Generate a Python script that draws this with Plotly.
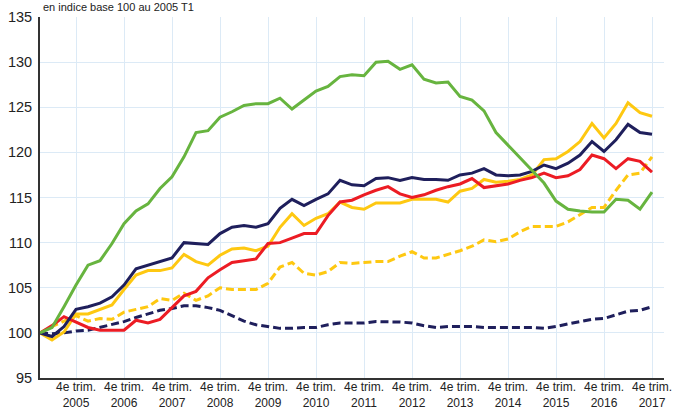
import plotly.graph_objects as go

# Quarter index 0..51 (first point = base 100)
quarters = list(range(52))
tick_positions = [3, 7, 11, 15, 19, 23, 27, 31, 35, 39, 43, 47, 51]
tick_labels = ["4e trim.<br>%d" % y for y in range(2005, 2018)]

green = [100.0, 100.6, 102.9, 105.3, 107.5, 108.0, 109.9, 112.1, 113.5, 114.3,
         116.0, 117.3, 119.5, 122.2, 122.4, 123.9, 124.5, 125.2, 125.4, 125.4,
         126.0, 124.8, 125.8, 126.8, 127.3, 128.4, 128.6, 128.5, 130.0, 130.1,
         129.2, 129.7, 128.1, 127.7, 127.8, 126.2, 125.8, 124.6, 122.2, 120.8,
         119.3, 118.0, 116.6, 114.6, 113.7, 113.5, 113.4, 113.4, 114.8, 114.7,
         113.7, 115.6]

navy = [100.0, 99.6, 100.7, 102.6, 102.9, 103.3, 104.0, 105.3, 107.1, 107.5,
        107.9, 108.3, 110.0, 109.9, 109.8, 111.0, 111.7, 111.9, 111.7, 112.1,
        113.8, 114.8, 114.1, 114.8, 115.4, 116.9, 116.4, 116.3, 117.1, 117.2,
        116.9, 117.2, 117.0, 117.0, 116.9, 117.5, 117.7, 118.2, 117.5, 117.4,
        117.5, 117.9, 118.6, 118.2, 118.8, 119.7, 121.2, 120.1, 121.4, 123.1,
        122.2, 122.0]

yellow = [100.0, 99.2, 100.1, 102.1, 102.1, 102.6, 103.1, 104.8, 106.4, 106.9,
          106.9, 107.2, 108.7, 107.9, 107.5, 108.6, 109.3, 109.4, 109.1, 109.6,
          111.7, 113.2, 111.9, 112.7, 113.2, 114.5, 113.9, 113.7, 114.4, 114.4,
          114.4, 114.8, 114.8, 114.8, 114.5, 115.7, 116.0, 117.0, 116.7, 116.8,
          117.0, 117.5, 119.2, 119.3, 120.1, 121.2, 123.2, 121.6, 123.2, 125.5,
          124.4, 124.0]

red = [100.0, 100.8, 101.8, 101.2, 100.6, 100.3, 100.3, 100.3, 101.4, 101.1,
       101.5, 102.8, 104.1, 104.6, 106.1, 107.0, 107.8, 108.0, 108.2, 109.9,
       110.0, 110.5, 111.0, 111.0, 113.0, 114.5, 114.7, 115.3, 115.8, 116.2,
       115.4, 115.0, 115.3, 115.8, 116.2, 116.5, 117.1, 116.1, 116.3, 116.5,
       116.9, 117.2, 117.7, 117.2, 117.4, 118.1, 119.7, 119.3, 118.2, 119.3,
       119.0, 117.8]

yellow_dashed = [100.0, 100.7, 101.3, 101.9, 101.3, 101.6, 101.5, 102.3, 102.6, 102.9,
                 103.8, 103.6, 104.4, 103.6, 104.1, 105.0, 104.8, 104.8, 104.8, 105.5,
                 107.3, 107.8, 106.6, 106.4, 106.8, 107.8, 107.7, 107.8, 107.9, 107.9,
                 108.5, 109.0, 108.3, 108.3, 108.7, 109.1, 109.6, 110.3, 110.1, 110.4,
                 111.2, 111.8, 111.8, 111.8, 112.3, 113.1, 113.9, 113.9, 115.8, 117.5,
                 117.7, 119.5]

navy_dashed = [100.0, 99.9, 100.0, 100.2, 100.3, 100.6, 100.9, 101.25, 101.7, 102.1,
               102.5, 102.7, 103.0, 103.0, 102.8, 102.5, 101.9, 101.3, 100.9, 100.7,
               100.5, 100.5, 100.6, 100.6, 100.9, 101.1, 101.1, 101.1, 101.25, 101.25,
               101.2, 101.1, 100.8, 100.6, 100.7, 100.7, 100.7, 100.6, 100.6, 100.6,
               100.6, 100.6, 100.5, 100.7, 101.0, 101.25, 101.5, 101.6, 102.0, 102.4,
               102.5, 102.9]

C_GREEN = "#67b43f"
C_NAVY = "#1f1f5c"
C_YELLOW = "#fec811"
C_RED = "#ec1c24"

fig = go.Figure()
series = [
    (navy_dashed, C_NAVY, "8px,4px"),
    (yellow_dashed, C_YELLOW, "8px,4px"),
    (yellow, C_YELLOW, "solid"),
    (red, C_RED, "solid"),
    (navy, C_NAVY, "solid"),
    (green, C_GREEN, "solid"),
]
for vals, col, dash in series:
    fig.add_trace(go.Scatter(x=quarters, y=vals, mode="lines",
                             line=dict(color=col, width=3, dash=dash),
                             showlegend=False, hoverinfo="skip"))

FONT = "Liberation Sans, Arial, sans-serif"
fig.update_layout(
    width=674, height=410,
    margin=dict(l=40, r=10, t=17, b=32, autoexpand=False),
    paper_bgcolor="white", plot_bgcolor="white",
    font=dict(family=FONT, color="#222222"),
)
fig.update_xaxes(
    range=[0, 52], tickmode="array", tickvals=tick_positions, ticktext=tick_labels,
    showgrid=True, gridcolor="#dceaf6", gridwidth=1,
    showline=True, linecolor="#333333", linewidth=2,
    ticks="", ticklabeloverflow="allow", automargin=False,
    ticklabelstandoff=-3,
    tickfont=dict(size=12, family=FONT, color="#222222"),
    zeroline=False, fixedrange=True,
)
fig.update_yaxes(
    range=[95, 135], dtick=5, tick0=95,
    showgrid=True, gridcolor="#dceaf6", gridwidth=1,
    showline=True, linecolor="#333333", linewidth=2,
    ticks="", ticklabelstandoff=3, automargin=False,
    tickfont=dict(size=14.5, family=FONT, color="#222222"),
    zeroline=False, fixedrange=True,
)
fig.add_annotation(
    text="en indice base 100 au 2005 T1", xref="paper", yref="paper",
    x=0.004, y=1.047, xanchor="left", yanchor="top", showarrow=False,
    borderpad=0, font=dict(size=11, family=FONT, color="#222222"),
)

fig.write_html("out.html", config={"displayModeBar": False},
               post_script="document.body.style.margin='0';document.body.style.overflow='hidden';")
